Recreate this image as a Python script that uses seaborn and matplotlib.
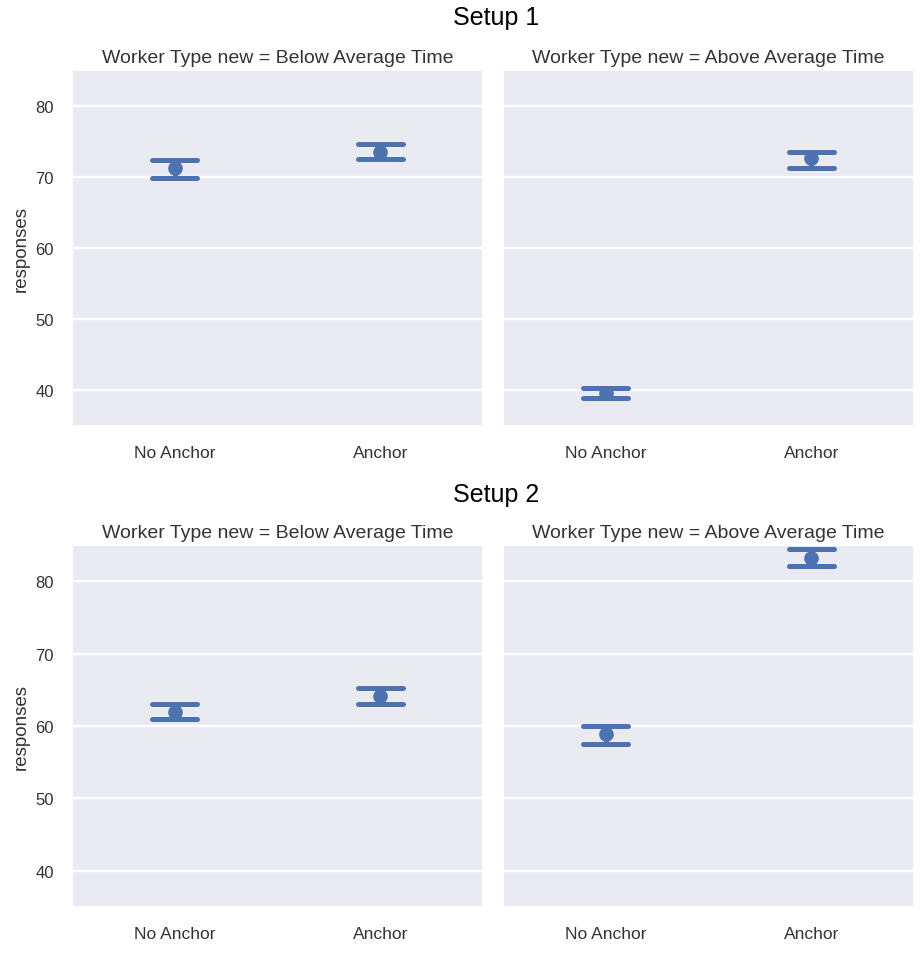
import pandas as pd
import matplotlib
matplotlib.use("Agg")
import matplotlib.pyplot as plt
import seaborn as sns

# values: point estimate and error-bar ends
setups = ["Setup 1", "Setup 2"]
worker_types = ["Below Average Time", "Above Average Time"]
anchors = ["No Anchor", "Anchor"]

# order: setup -> worker type -> anchor
point_vals = [71.2, 73.5, 39.7, 72.6,
              62.0, 64.2, 58.9, 83.2]
lower_vals = [69.9, 72.5, 39.0, 71.3,
              61.0, 63.1, 57.5, 82.1]
upper_vals = [72.3, 74.6, 40.4, 73.5,
              63.1, 65.2, 60.0, 84.4]


def build_frame():
    rows = []
    i = 0
    for s in setups:
        for w in worker_types:
            for a in anchors:
                for v in (lower_vals[i], point_vals[i], upper_vals[i]):
                    rows.append({"setup": s, "worker": w, "anchor": a, "responses": v})
                i += 1
    return pd.DataFrame(rows)


df = build_frame()

sns.set_theme(style="darkgrid", context="notebook")
plt.rcParams["font.family"] = ["Liberation Sans", "DejaVu Sans"]
plt.rcParams["grid.linewidth"] = 1.7

fig = plt.figure(figsize=(9.22, 9.54), dpi=100)
W, H = 922, 954

# pixel boxes (left, top, right, bottom) of the four panels
col_x = [(72, 483), (503, 914)]
row_y = [(71, 427), (546, 908)]
title_y = [18, 495]
blue = "#4C72B0"
text_col = ".2"

for r, setup in enumerate(setups):
    fig.text(496 / W, 1 - title_y[r] / H, setup, ha="center", va="center",
             fontsize=18, color="black")
    first_ax = None
    for c, wtype in enumerate(worker_types):
        x0, x1 = col_x[c]
        y0, y1 = row_y[r]
        ax = fig.add_axes([x0 / W, 1 - y1 / H, (x1 - x0) / W, (y1 - y0) / H],
                          sharey=first_ax)
        if first_ax is None:
            first_ax = ax
        sub = df[(df["setup"] == setup) & (df["worker"] == wtype)]
        sns.pointplot(data=sub, x="anchor", y="responses", order=anchors,
                      estimator="median", errorbar=("pi", 100),
                      capsize=0.22, linestyle="none", color=blue,
                      markersize=8.5, err_kws={"linewidth": 3.6}, ax=ax)
        ax.set_ylim(35, 85)
        ax.set_yticks([40, 50, 60, 70, 80])
        ax.set_xlabel("")
        ax.set_title(f"Worker Type new = {wtype}", fontsize=14,
                     color=text_col, pad=6)
        ax.tick_params(axis="x", length=0, pad=14, labelsize=12.5, colors=text_col)
        ax.tick_params(axis="y", length=0, pad=13, labelsize=12, colors=text_col)
        if c == 0:
            ax.set_ylabel("responses", fontsize=13.5, color=text_col, labelpad=4)
        else:
            ax.set_ylabel("")
            ax.tick_params(axis="y", labelleft=False)

fig.savefig("out.png", dpi=100)
